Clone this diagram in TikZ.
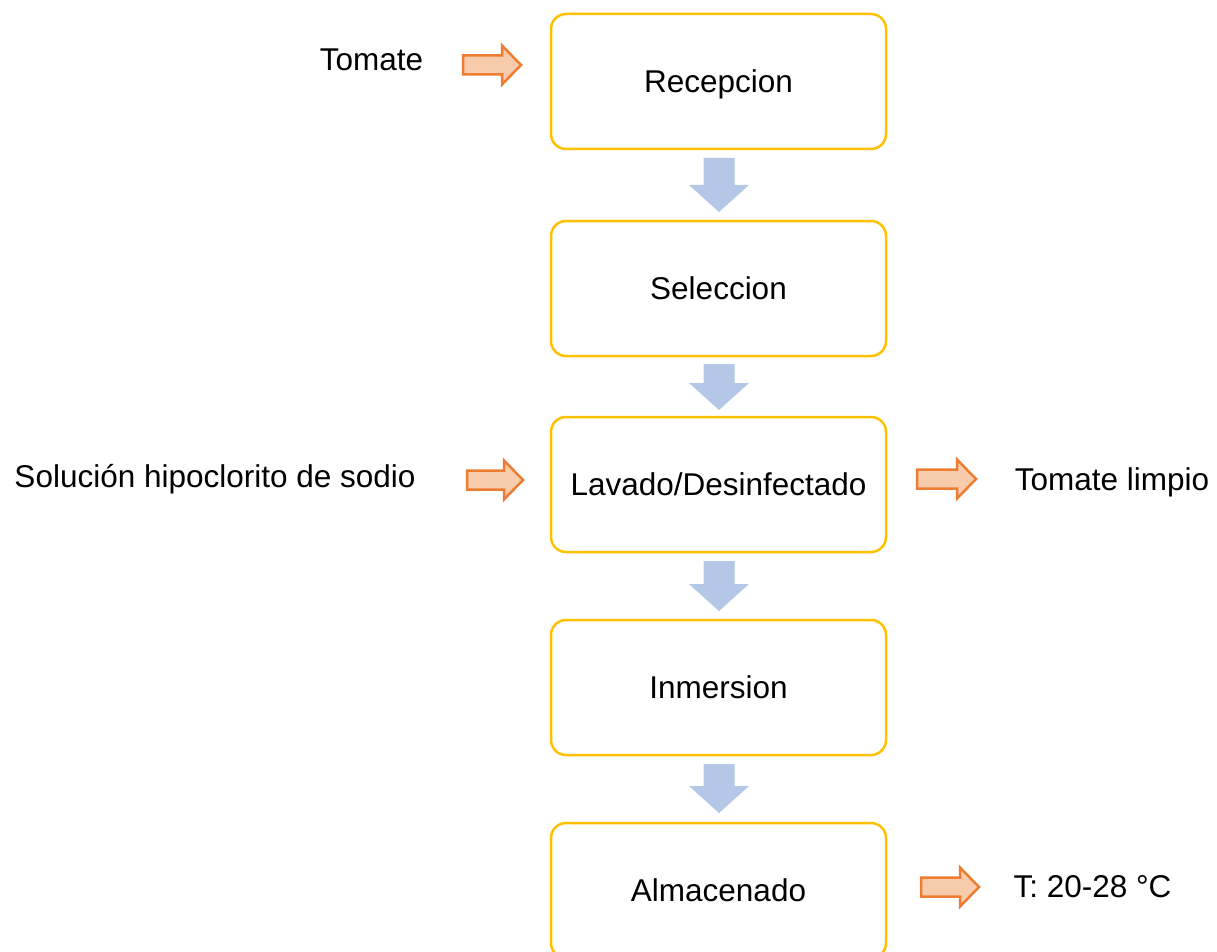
\documentclass[tikz,border=0pt]{standalone}
\usepackage{fontspec}
\setmainfont{Liberation Sans}
\definecolor{boxgold}{HTML}{FFC000}
\definecolor{orfill}{HTML}{F8CBAD}
\definecolor{orline}{HTML}{ED7D31}
\definecolor{bluefill}{HTML}{B4C7E7}
\newcommand\fs{\fontsize{31.5}{38}\selectfont}
\newcommand\oarrow[3]{%
  \draw[oarr] (#1,{#3-9.5}) -- ({#2-19},{#3-9.5}) -- ({#2-19},{#3-19.5}) -- (#2,#3)
   -- ({#2-19},{#3+19.5}) -- ({#2-19},{#3+9.5}) -- (#1,{#3+9.5}) -- cycle;}
\newcommand\barrow[3]{%
  \fill[bluefill] ({#1-15.5},#2) -- ({#1+15.5},#2) -- ({#1+15.5},{#3-27}) -- ({#1+30},{#3-27})
   -- (#1,#3) -- ({#1-30},{#3-27}) -- ({#1-15.5},{#3-27}) -- cycle;}
\begin{document}
\begin{tikzpicture}[x=1pt,y=-1pt,
  box/.style={draw=boxgold, line width=2.5pt, rounded corners=15pt,
    minimum width=335pt, minimum height=135pt, inner sep=0pt, font=\fs,
    text height=22.5pt, text depth=0pt},
  lbl/.style={font=\fs, inner sep=0pt, anchor=center, text height=22.5pt, text depth=0pt},
  oarr/.style={draw=orline, fill=orfill, line width=2.5pt, line join=miter}]
\useasboundingbox (0,0) rectangle (1217,952);
\node[box] (rec) at (718.5,81.5) {Recepcion};
\node[box] (sel) at (718.5,288.5) {Seleccion};
\node[box] (lav) at (718.5,484.5) {Lavado/Desinfectado};
\node[box] (inm) at (718.5,687.5) {Inmersion};
\node[box] (alm) at (718.5,890.5) {Almacenado};
\barrow{719}{158}{212}
\barrow{719}{364}{410}
\barrow{719}{561}{611}
\barrow{719}{764}{813}
\node[lbl] (tom) at (371.5,59.5) {Tomate};
\node[lbl] (sol) at (215,476.5) {Solución hipoclorito de sodio};
\node[lbl] (lim) at (1112,479.5) {Tomate limpio};
\node[lbl] (tem) at (1092.5,886.5) {T: 20-28 °C};
\oarrow{463}{521}{65}
\oarrow{467}{523}{480}
\oarrow{917}{976}{479}
\oarrow{921}{979}{887}
\end{tikzpicture}
\end{document}
